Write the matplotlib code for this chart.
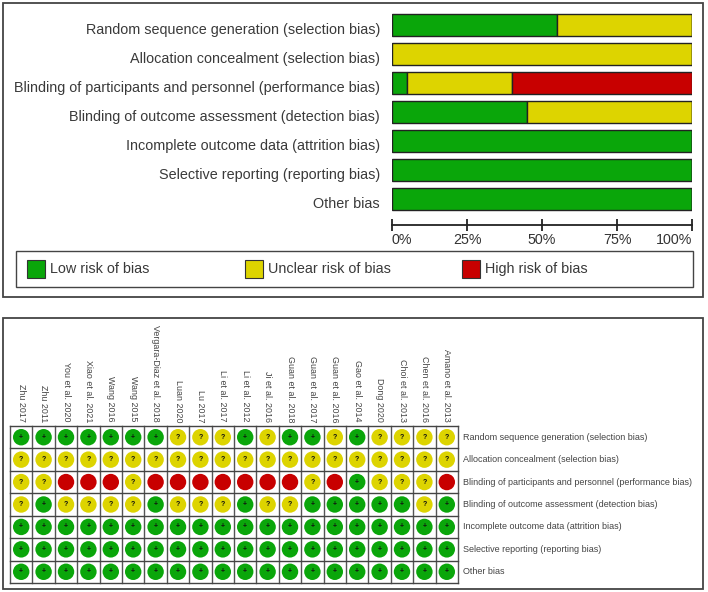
import numpy as np
import matplotlib.pyplot as plt
from matplotlib.patches import Rectangle
from matplotlib.transforms import ScaledTranslation

plt.rcParams['font.family'] = ['Liberation Sans', 'DejaVu Sans']

# risk of bias domains
domains = [
    'Random sequence generation (selection bias)',
    'Allocation concealment (selection bias)',
    'Blinding of participants and personnel (performance bias)',
    'Blinding of outcome assessment (detection bias)',
    'Incomplete outcome data (attrition bias)',
    'Selective reporting (reporting bias)',
    'Other bias',
]

studies = [
    'Zhu 2017', 'Zhu 2011', 'You et al. 2020', 'Xiao et al. 2021', 'Wang 2016',
    'Wang 2015', 'Vergara-Diaz et al. 2018', 'Luan 2020', 'Lu 2017', 'Li et al. 2017',
    'Li et al. 2012', 'Ji et al. 2016', 'Guan et al. 2018', 'Guan et al. 2017',
    'Guan et al. 2016', 'Gao et al. 2014', 'Dong 2020', 'Choi et al. 2013',
    'Chen et al. 2016', 'Amano et al. 2013',
]

# judgements per study (L = low, U = unclear, H = high), same order as studies
random_sequence = list('LLLLLLLUUULULLULUUUU')
allocation = list('UUUUUUUUUUUUUUUUUUUU')
blinding_participants = list('UUHHHUHHHHHHHUHLUUUH')
blinding_outcome = list('ULUUUULUUULUULLLLLUL')
incomplete_data = list('LLLLLLLLLLLLLLLLLLLL')
selective_reporting = list('LLLLLLLLLLLLLLLLLLLL')
other_bias = list('LLLLLLLLLLLLLLLLLLLL')

ratings = [random_sequence, allocation, blinding_participants, blinding_outcome,
           incomplete_data, selective_reporting, other_bias]

levels = ['L', 'U', 'H']
legend_labels = ['Low risk of bias', 'Unclear risk of bias', 'High risk of bias']
colors = {'L': '#0aa60a', 'U': '#ddd400', 'H': '#c80000'}
symbols = {'L': '+', 'U': '?', 'H': ''}

W, H = 708, 592
fig = plt.figure(figsize=(W / 100, H / 100), dpi=100)


def box(x0, y0, x1, y1):
    # pixel box (top-left origin) -> figure fraction
    return [x0 / W, 1 - y1 / H, (x1 - x0) / W, (y1 - y0) / H]


def frame(x0, y0, x1, y1, lw=1.3):
    l, b, w, h = box(x0, y0, x1, y1)
    fig.patches.append(Rectangle((l, b), w, h, transform=fig.transFigure,
                                 fill=False, ec='#444444', lw=lw))


frame(3, 3, 703, 297)
frame(3, 318, 703, 589)

# ---- top panel: summary bars ----
ax1 = fig.add_axes(box(392, 10.5, 692, 213.5))
n = len(studies)
ypos = np.arange(len(domains))
left = np.zeros(len(domains))
for lev in levels:
    pct = np.array([r.count(lev) / n * 100 for r in ratings])
    ax1.barh(ypos, pct, left=left, height=0.76, color=colors[lev],
             edgecolor='#222222', linewidth=1.0)
    left += pct

ax1.set_xlim(0, 100)
ax1.set_ylim(len(domains) - 0.5, -0.5)
for s in ['left', 'right', 'top']:
    ax1.spines[s].set_visible(False)
ax1.spines['bottom'].set_position(('outward', 8.3))
ax1.spines['bottom'].set_linewidth(1.3)
ax1.spines['bottom'].set_color('#222222')
ax1.set_yticks([])
ax1.set_xticks([0, 25, 50, 75, 100])
ax1.set_xticklabels(['0%', '25%', '50%', '75%', '100%'])
ax1.tick_params(axis='x', direction='inout', length=8, width=1.3, labelsize=10.3,
                pad=2, colors='#222222', labelcolor='#333333')
tl = ax1.get_xticklabels()
tl[0].set_ha('left')
tl[-1].set_ha('right')

shift = ax1.transData + ScaledTranslation(0, -5 / 100, fig.dpi_scale_trans)
for i, d in enumerate(domains):
    ax1.text(-4, i, d, ha='right', va='center', fontsize=10.4, color='#3a3a3a',
             transform=shift)

# legend
frame(16, 251, 693, 287, lw=1.0)
for lev, lab, x in zip(levels, legend_labels, [27, 245, 462]):
    l, b, w, h = box(x, 260, x + 18, 278)
    fig.patches.append(Rectangle((l, b), w, h, transform=fig.transFigure,
                                 fc=colors[lev], ec='#333333', lw=0.8))
    fig.text((x + 23) / W, 1 - 269 / H, lab, ha='left', va='center',
             fontsize=10.4, color='#3a3a3a')

# ---- bottom panel: traffic light grid ----
ax2 = fig.add_axes(box(10, 426, 458, 583))
ax2.set_xlim(-0.5, n - 0.5)
ax2.set_ylim(len(domains) - 0.5, -0.5)
ax2.axis('off')
for x in np.arange(-0.5, n, 1):
    ax2.axvline(x, color='#555555', lw=1.0, clip_on=False)
for y in np.arange(-0.5, len(domains), 1):
    ax2.axhline(y, color='#444444', lw=1.0, clip_on=False)

for r, row in enumerate(ratings):
    xs = np.arange(n)
    ax2.scatter(xs, np.full(n, r), s=140, c=[colors[v] for v in row],
                edgecolors='none', zorder=3)
    for c, v in enumerate(row):
        ax2.text(c, r, symbols[v], ha='center', va='center', fontsize=5,
                 fontweight='bold', color='#111111', zorder=4)

up = ax2.transData + ScaledTranslation(0, 4 / 100, fig.dpi_scale_trans)
for c, s in enumerate(studies):
    ax2.text(c, -0.5, s, rotation=270, ha='center', va='bottom', fontsize=6.4,
             color='#444444', transform=up)

right = ax2.transData + ScaledTranslation(5 / 100, 0, fig.dpi_scale_trans)
for r, d in enumerate(domains):
    ax2.text(n - 0.5, r, d, ha='left', va='center', fontsize=6.5,
             color='#444444', transform=right)

fig.savefig('out.png', dpi=100)
